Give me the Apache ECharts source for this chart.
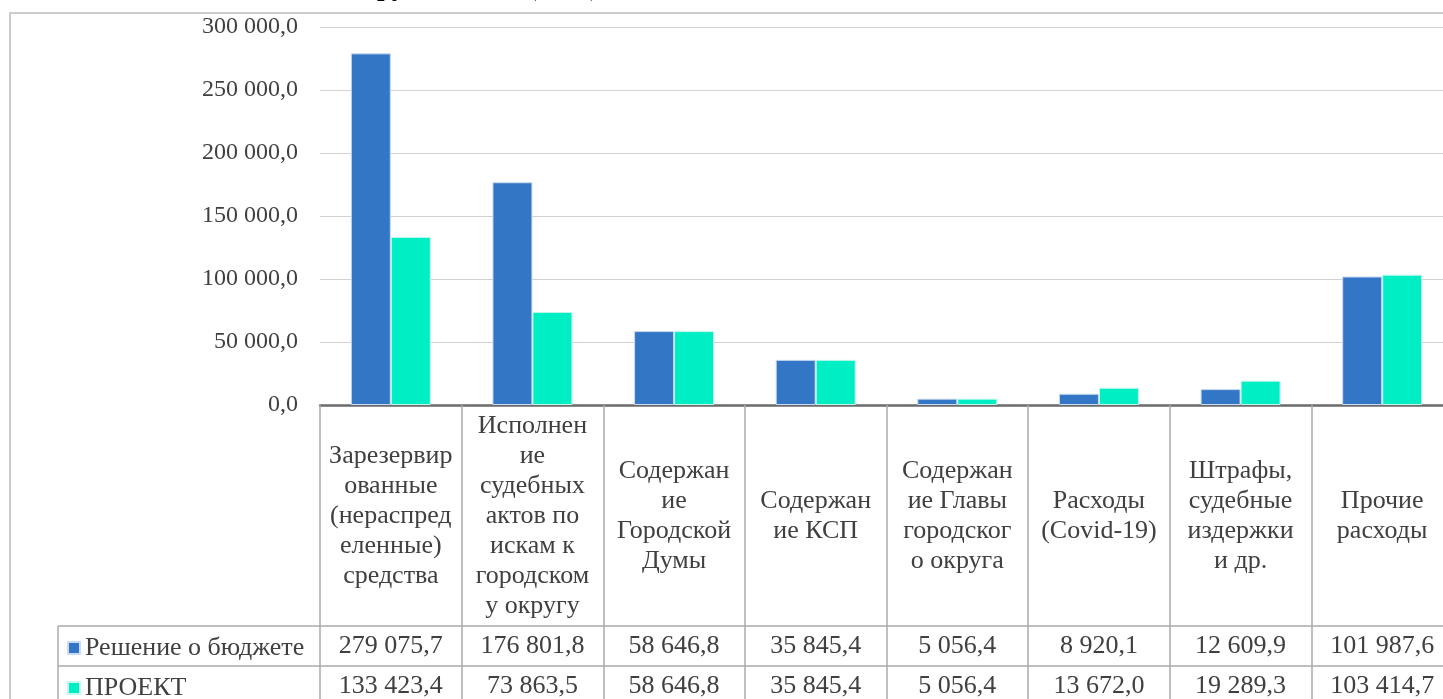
<!DOCTYPE html>
<html>
<head>
    <meta charset="UTF-8">
    <title>chart</title>
    <script src="https://cdn.jsdelivr.net/npm/echarts@6/dist/echarts.min.js"></script>
    <style>
        *{margin:0;padding:0}
        html,body{width:100%;height:100%;background:#fff;overflow:hidden}
        /* диаграмма шире окна: правый край таблицы уходит за границу, как в исходнике */
        #main{width:1460px;height:699px}
    </style>
</head>
<body>
<div id="main"></div>
<script type="text/javascript">
    // подписи категорий (как в таблице, с переносами)
    var categories = [
        'Зарезервир\nованные\n(нераспред\nеленные)\nсредства',
        'Исполнен\nие\nсудебных\nактов по\nискам к\nгородском\nу округу',
        'Содержан\nие\nГородской\nДумы',
        'Содержан\nие КСП',
        'Содержан\nие Главы\nгородског\nо округа',
        'Расходы\n(Covid-19)',
        'Штрафы,\nсудебные\nиздержки\nи др.',
        'Прочие\nрасходы'
    ];
    var seriesNames = ['Решение о бюджете', 'ПРОЕКТ'];
    var budget = [279075.7, 176801.8, 58646.8, 35845.4, 5056.4, 8920.1, 12609.9, 101987.6];
    var project = [133423.4, 73863.5, 58646.8, 35845.4, 5056.4, 13672.0, 19289.3, 103414.7];
    var yTicks = {min: 0, max: 300000, interval: 50000};

    var FONT = 'Liberation Serif, Times New Roman, serif';
    var TEXT = '#404040';
    var LINE = '#ababab';

    // 279075.7 -> "279 075,7"
    function fmt(v) {
        var s = v.toFixed(1).split('.');
        return s[0].replace(/\B(?=(\d{3})+(?!\d))/g, ' ') + ',' + s[1];
    }

    var myChart = echarts.init(document.getElementById('main'));

    // строка таблицы под графиком
    function rowAxis(values, offset) {
        return {
            type: 'category',
            position: 'bottom',
            offset: offset,
            data: categories,
            axisLine: {show: true, lineStyle: {color: LINE, width: 1.5}},
            axisTick: {show: false},
            splitLine: {show: false},
            axisLabel: {
                interval: 0,
                margin: 20,
                verticalAlign: 'middle',
                fontFamily: FONT,
                fontSize: 26,
                color: TEXT,
                formatter: function (v, i) { return fmt(values[i]); }
            }
        };
    }

    // ключ легенды в строке таблицы
    function legendRow(name, top) {
        return {
            data: [name],
            left: 67,
            top: top,
            padding: 0,
            itemWidth: 12,
            itemHeight: 12,
            icon: 'rect',
            textStyle: {fontFamily: FONT, fontSize: 26, lineHeight: 30, color: TEXT}
        };
    }

    var option = {
        animation: false,
        title: {
            text: 'рублей 2021 (тыс.)',
            left: 372,
            top: -30,
            textStyle: {fontFamily: FONT, fontSize: 27, fontWeight: 'bold', color: '#000'}
        },
        legend: [legendRow(seriesNames[0], 633), legendRow(seriesNames[1], 673)],
        grid: {left: 320, top: 27, width: 1133, height: 380, containLabel: false},
        xAxis: [
            {
                type: 'category',
                data: categories,
                axisLine: {show: true, lineStyle: {color: '#6b6b6b', width: 2.5}},
                axisTick: {show: true, interval: 0, length: 310, lineStyle: {color: LINE, width: 1.5}},
                axisLabel: {
                    interval: 0,
                    margin: 111,
                    verticalAlign: 'middle',
                    align: 'center',
                    fontFamily: FONT,
                    fontSize: 26,
                    lineHeight: 30,
                    color: TEXT
                }
            },
            rowAxis(budget, 221),
            rowAxis(project, 261)
        ],
        yAxis: {
            type: 'value',
            min: yTicks.min,
            max: yTicks.max,
            interval: yTicks.interval,
            axisLine: {show: false},
            axisTick: {show: false},
            splitLine: {lineStyle: {color: '#d2d2d2', width: 1.2}},
            axisLabel: {
                margin: 22,
                fontFamily: FONT,
                fontSize: 24,
                color: TEXT,
                formatter: function (v) { return fmt(v); }
            }
        },
        series: [
            {
                name: seriesNames[0],
                type: 'bar',
                data: budget,
                barWidth: 40,
                barGap: '0%',
                itemStyle: {color: '#3476c6', borderColor: '#c9dbf0', borderWidth: 1}
            },
            {
                name: seriesNames[1],
                type: 'bar',
                data: project,
                barWidth: 40,
                barGap: '0%',
                itemStyle: {color: '#00eec4', borderColor: '#c4f7ec', borderWidth: 1}
            }
        ]
    };

    myChart.setOption(option);

    // рамка диаграммы и левая колонка таблицы (легенда)
    var x0 = myChart.convertToPixel({xAxisIndex: 0}, 0) - 1133 / 16;
    var y0 = myChart.convertToPixel({yAxisIndex: 0}, 0);
    var r1 = y0 + 221, r2 = y0 + 261, legLeft = 58;
    myChart.setOption({
        graphic: [
            {type: 'rect', shape: {x: 10, y: 13, width: 1600, height: 900},
                style: {fill: 'none', stroke: '#cccccc', lineWidth: 2}, silent: true},
            {type: 'line', shape: {x1: legLeft, y1: r1, x2: x0, y2: r1},
                style: {stroke: LINE, lineWidth: 1.5}},
            {type: 'line', shape: {x1: legLeft, y1: r2, x2: x0, y2: r2},
                style: {stroke: LINE, lineWidth: 1.5}},
            {type: 'line', shape: {x1: legLeft, y1: r1, x2: legLeft, y2: r2 + 60},
                style: {stroke: LINE, lineWidth: 1.5}}
        ]
    });
</script>
</body>
</html>
